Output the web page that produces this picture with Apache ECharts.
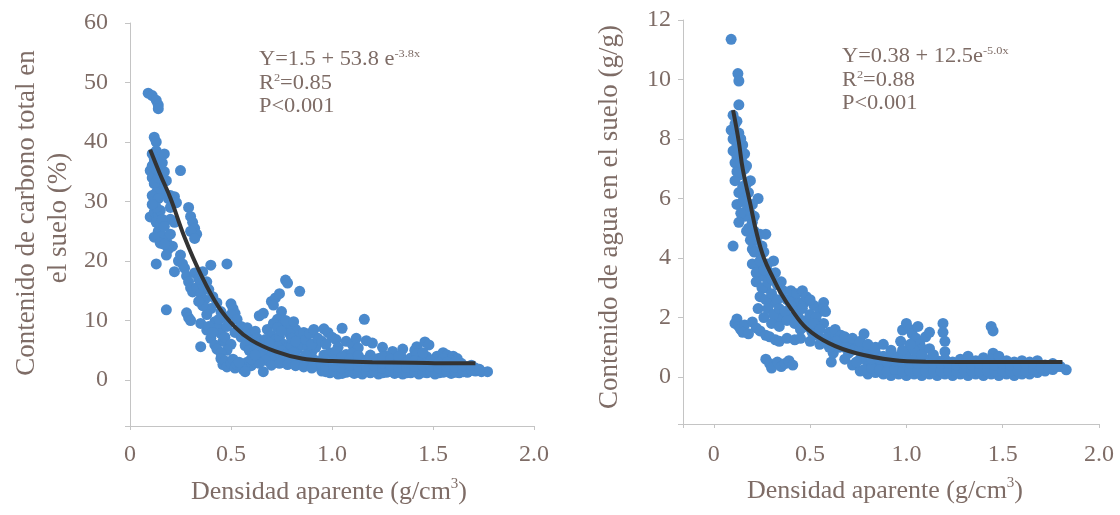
<!DOCTYPE html>
<html><head><meta charset="utf-8">
<script src="https://cdn.jsdelivr.net/npm/echarts@6/dist/echarts.min.js"></script>
<style>html,body{margin:0;padding:0;background:#fff}#c{width:1120px;height:515px}</style>
</head><body><div id="c"></div>
<script>
// ---------- data ----------
const xTickLabels = ['0', '0.5', '1.0', '1.5', '2.0'];

// Left panel: bulk density (g/cm3) vs total soil carbon (%)
const carbonPoints = [
 [0.09,48.2],[0.11,47.8],[0.13,47.0],[0.14,46.2],[0.14,45.6],[0.12,40.8],[0.13,40.0],
 [0.10,35.2],[0.11,34.0],[0.12,36.5],[0.13,38.5],[0.14,37.0],[0.15,36.0],[0.16,34.5],[0.17,35.0],
 [0.15,33.0],[0.16,32.0],[0.17,31.5],[0.18,33.5],[0.19,30.5],[0.20,31.0],[0.21,30.0],[0.25,35.2],
 [0.10,27.4],[0.12,28.2],[0.14,27.8],[0.15,28.5],[0.13,26.5],[0.20,29.0],[0.22,30.8],[0.23,29.8],
 [0.20,27.0],[0.22,26.5],[0.29,29.0],[0.30,27.5],[0.31,26.5],[0.32,25.5],[0.33,24.5],[0.30,25.0],
 [0.32,23.8],[0.14,25.0],[0.16,24.2],[0.18,23.5],[0.20,24.5],[0.21,22.5],[0.19,22.0],[0.25,21.0],
 [0.24,20.0],[0.26,19.5],[0.27,18.8],[0.13,19.5],[0.22,18.2],[0.40,19.3],[0.48,19.5],[0.28,17.5],
 [0.29,16.5],[0.30,15.5],[0.31,14.8],[0.33,15.5],[0.35,14.5],[0.36,16.0],[0.38,16.5],[0.37,13.5],
 [0.77,16.8],[0.78,16.3],[0.84,14.9],[0.18,11.8],[0.28,11.3],[0.29,10.5],[0.30,10.0],[0.40,12.0],
 [0.38,11.0],[0.35,9.5],[0.38,8.4],[0.42,9.8],[0.44,8.8],[0.45,7.8],[0.40,7.0],[0.46,6.5],
 [0.35,5.6],[0.42,5.9],[0.43,5.2],
 [0.11,38.0],[0.12,37.2],[0.11,36.0],[0.12,33.0],[0.13,31.5],[0.11,31.0],[0.12,30.0],[0.14,30.5],
 [0.13,29.0],[0.11,29.5],[0.15,26.2],[0.16,27.0],[0.17,25.8],[0.12,24.0],[0.15,23.0],[0.17,22.8],
 [0.18,21.0],[0.14,34.0],[0.16,36.5],[0.17,38.0],[0.13,35.5],
 [0.32,18.0],[0.34,17.0],[0.36,18.2],[0.39,15.2],[0.41,14.0],[0.43,13.0],[0.45,11.5],[0.47,10.5],
 [0.44,10.2],[0.36,12.5],[0.34,13.2],[0.39,9.0],[0.41,8.0],[0.48,9.0],[0.47,7.2],[0.50,6.0],[0.48,5.0],[0.45,4.5],
 [0.50,12.8],[0.51,12.0],[0.52,11.2],[0.50,11.0],[0.53,10.2],[0.55,9.0],[0.56,8.3],[0.58,8.8],
 [0.60,7.8],[0.62,8.2],[0.64,10.8],[0.66,11.2],[0.63,7.0],[0.58,6.8],[0.60,6.2],[0.65,6.5],
 [0.55,7.2],[0.52,8.0],[0.70,13.2],[0.72,13.8],[0.74,14.5],[0.71,12.6],[0.75,11.5],[0.73,10.2],
 [0.76,9.5],[0.78,9.2],[0.80,8.8],[0.82,8.5],[0.79,7.8],[0.84,7.5],[0.86,8.0],[0.77,10.0],[0.81,9.8],
 [0.68,8.5],[0.70,7.5],[0.72,6.8],[0.74,7.2],[0.76,6.0],[0.78,5.5],[0.80,5.8],[0.83,5.2],[0.85,6.0],
 [0.88,5.5],[0.90,4.8],[0.92,5.5],[0.66,5.5],[0.68,4.6],[0.70,4.0],[0.72,3.8],[0.74,4.5],[0.76,3.5],
 [0.80,3.2],[0.82,4.0],[0.85,3.5],[0.88,3.0],[0.90,3.8],[0.93,3.2],
 [0.57,5.8],[0.59,5.0],[0.61,4.5],[0.63,5.3],[0.65,4.0],[0.67,3.3],[0.69,5.8],[0.71,5.2],[0.73,5.6],
 [0.75,4.9],[0.77,4.2],[0.79,3.8],[0.81,4.6],[0.83,3.0],[0.87,4.2],[0.89,3.3],[0.91,2.6],[0.94,2.2],
 [0.70,2.5],[0.74,2.8],[0.78,2.6],[0.60,2.4],[0.58,3.0],[0.62,3.0],[0.67,6.8],[0.69,6.2],[0.71,9.5],
 [0.73,8.8],[0.75,8.2],[0.80,7.0],[0.82,6.5],[0.87,6.8],[0.90,6.0],[0.93,7.0],[0.89,7.8],[0.91,8.5],
 [0.45,3.6],[0.46,2.6],[0.47,3.2],[0.48,2.2],[0.50,2.8],[0.51,3.5],[0.52,2.0],[0.53,2.6],[0.55,2.3],
 [0.56,1.8],[0.57,1.4],[0.54,3.0],[0.64,2.8],[0.66,1.4],[0.60,3.5],[0.62,4.2],[0.82,2.4],[0.86,2.2],[0.90,2.0],
 [0.96,8.6],[0.98,8.0],[1.00,7.2],[1.02,6.8],[1.05,8.7],[1.07,6.5],[1.10,6.0],[1.16,10.2],[1.17,6.6],
 [1.20,6.2],[1.12,7.0],[0.95,6.5],[0.97,6.0],[1.03,5.5],[1.13,5.4],[1.25,5.5],[1.30,4.8],[1.35,5.2],
 [1.42,5.6],[1.46,6.4],[1.48,5.9],[1.41,5.0],[1.55,4.6],[1.57,4.2],[1.60,4.0],[1.62,3.6],[1.52,4.0],
 [0.95,1.5],[0.95,2.6],[0.96,4.2],[0.99,1.2],[0.99,2.0],[1.00,3.0],[0.99,4.6],
 [1.03,1.0],[1.03,1.8],[1.04,2.7],[1.03,3.8],[1.02,4.8],[1.07,1.3],[1.07,2.2],[1.08,3.3],[1.07,4.3],
 [1.11,1.1],[1.11,1.9],[1.12,2.8],[1.11,3.7],[1.10,4.5],[1.15,1.0],[1.15,1.6],[1.16,2.5],[1.15,3.4],
 [1.19,1.2],[1.19,2.1],[1.20,3.0],[1.19,4.2],[1.23,1.0],[1.23,1.7],[1.24,2.6],[1.23,3.6],
 [1.27,1.3],[1.27,2.2],[1.28,3.1],[1.27,4.0],[1.31,1.1],[1.31,1.8],[1.32,2.7],[1.31,3.5],
 [1.35,1.0],[1.35,1.5],[1.36,2.4],[1.35,3.3],[1.34,4.1],[1.39,1.2],[1.39,2.0],[1.40,2.9],[1.39,3.7],
 [1.43,1.0],[1.43,1.7],[1.44,2.6],[1.43,3.5],[1.42,4.4],[1.47,1.2],[1.47,2.1],[1.48,3.0],[1.47,3.9],
 [1.51,1.0],[1.51,1.6],[1.52,2.5],[1.51,3.4],[1.55,1.3],[1.55,2.0],[1.56,2.8],[1.55,3.6],
 [1.59,1.1],[1.59,1.8],[1.60,2.6],[1.59,3.2],[1.63,1.2],[1.63,2.0],[1.64,2.8],[1.67,1.3],[1.67,2.2],
 [1.71,1.5],[1.71,2.0],[1.74,1.4],[1.77,1.4],
 [0.97,1.4],[0.97,2.3],[0.97,3.4],[1.01,1.5],[1.01,2.4],[1.01,3.3],[1.05,1.1],[1.05,2.0],[1.05,3.0],
 [1.05,3.9],[1.09,1.5],[1.09,2.5],[1.09,3.6],[1.13,1.3],[1.13,2.3],[1.13,3.2],[1.13,4.1],[1.17,1.4],
 [1.17,2.3],[1.17,3.2],[1.21,1.5],[1.21,2.4],[1.21,3.4],[1.25,1.2],[1.25,2.0],[1.25,2.9],[1.25,3.9],
 [1.29,1.5],[1.29,2.5],[1.29,3.5],[1.33,1.3],[1.33,2.1],[1.33,3.0],[1.33,3.9],[1.37,1.2],[1.37,2.1],
 [1.37,3.0],[1.41,1.4],[1.41,2.3],[1.41,3.2],[1.45,1.3],[1.45,2.4],[1.45,3.3],[1.45,4.6],[1.49,1.4],
 [1.49,2.3],[1.49,3.2],[1.53,1.2],[1.53,2.0],[1.53,2.9],[1.57,1.4],[1.57,2.3],[1.57,3.0],[1.61,1.3],
 [1.61,2.2],[1.61,3.0],[1.65,1.4],[1.65,2.4],[1.69,1.6],[1.69,2.5],[1.73,1.8]
];
// Fitted curve as drawn
const carbonFit = [
 [0.10,38.7],[0.15,34.5],[0.20,30.6],[0.27,24.0],[0.35,17.8],[0.44,12.2],[0.52,8.9],[0.60,6.7],
 [0.72,4.8],[0.85,3.6],[1.00,3.2],[1.20,3.0],[1.40,2.9],[1.60,2.8],[1.71,2.8]
];

// Right panel: bulk density (g/cm3) vs soil water content (g/g)
const waterPoints = [
 [0.09,11.35],[0.125,10.2],[0.13,9.95],[0.13,9.15],
 [0.09,8.3],[0.10,8.0],[0.11,8.5],[0.10,7.6],[0.12,7.8],[0.11,7.2],[0.13,8.2],[0.14,7.5],[0.12,6.9],
 [0.14,6.8],[0.15,7.2],[0.16,7.0],[0.17,7.1],[0.15,6.4],[0.13,6.2],[0.16,6.0],[0.18,6.2],[0.12,5.8],
 [0.17,5.6],[0.19,5.5],[0.23,6.0],[0.20,5.2],[0.18,5.0],[0.21,4.9],[0.22,4.6],[0.24,4.8],[0.27,4.8],
 [0.20,4.3],[0.23,4.2],[0.25,4.4],[0.10,4.4],
 [0.10,8.8],[0.11,8.0],[0.12,8.6],[0.13,7.6],[0.12,7.4],[0.11,6.6],[0.13,6.9],[0.14,7.2],[0.15,7.8],
 [0.14,8.0],[0.16,7.5],[0.17,6.5],[0.15,5.9],[0.16,5.4],[0.18,5.6],[0.19,6.6],[0.20,5.8],[0.21,5.4],
 [0.14,5.5],[0.13,5.2],[0.17,4.9],[0.19,4.6],[0.21,4.2],[0.23,3.8],[0.25,3.4],[0.27,3.0],[0.26,4.2],
 [0.29,3.5],[0.32,3.5],[0.35,3.2],[0.38,2.6],[0.41,2.6],[0.44,2.5],[0.47,2.5],[0.52,2.4],[0.55,2.2],
 [0.36,2.0],[0.40,2.0],[0.44,2.0],[0.48,1.9],[0.51,1.5],[0.54,1.4],[0.57,1.8],[0.60,1.2],[0.62,1.4],
 [0.66,1.2],[0.70,0.8],[0.74,1.1],[0.30,2.5],[0.33,2.0],[0.26,2.0],[0.23,2.3],
 [0.20,3.8],[0.22,3.5],[0.24,3.9],[0.26,3.6],[0.28,3.8],[0.31,3.9],[0.22,3.2],[0.25,3.0],[0.28,3.2],
 [0.30,3.3],[0.33,3.1],[0.24,2.7],[0.27,2.6],[0.30,2.8],[0.33,2.6],[0.36,2.9],[0.40,2.9],[0.43,2.8],
 [0.46,2.9],[0.48,2.7],[0.50,2.6],[0.28,2.3],[0.31,2.1],[0.34,2.3],[0.37,2.2],[0.40,2.4],[0.43,2.2],
 [0.46,2.3],[0.50,2.1],[0.53,2.0],[0.57,2.5],[0.57,2.3],[0.58,2.2],
 [0.30,1.8],[0.34,1.7],[0.38,1.9],[0.42,1.8],[0.45,1.6],[0.48,1.7],[0.52,1.8],[0.55,1.6],[0.60,1.5],
 [0.63,1.6],[0.66,1.4],
 [0.11,1.8],[0.12,1.95],[0.13,1.7],[0.14,1.6],[0.16,1.75],[0.20,1.85],[0.22,1.65],[0.24,1.55],
 [0.27,1.4],[0.29,1.35],[0.32,1.25],[0.34,1.2],[0.38,1.3],[0.42,1.25],[0.15,1.5],[0.18,1.45],
 [0.27,0.6],[0.29,0.45],[0.30,0.3],[0.33,0.5],[0.35,0.35],[0.37,0.45],[0.39,0.55],[0.41,0.4],
 [0.45,1.3],[0.50,1.2],[0.55,1.1],[0.58,1.3],[0.61,0.5],[0.62,0.8],[0.65,1.0],[0.70,1.2],[0.72,0.9],
 [0.60,1.0],[0.64,1.2],[0.68,0.6],[0.68,1.0],[0.68,1.35],[0.72,0.4],[0.72,1.3],
 [0.76,0.2],[0.76,0.6],[0.76,1.0],[0.76,1.2],[0.80,0.1],[0.80,0.5],[0.80,0.9],[0.80,1.1],
 [0.84,0.15],[0.84,0.45],[0.84,0.8],[0.84,1.0],[0.88,0.1],[0.88,0.4],[0.88,0.7],[0.88,1.1],
 [0.92,0.05],[0.92,0.35],[0.92,0.65],[0.92,0.9],[0.96,0.1],[0.96,0.4],[0.96,0.7],[0.97,1.2],
 [0.78,1.45],[0.98,1.58],
 [1.00,1.8],[1.02,1.6],[1.03,1.45],[1.05,1.3],[1.07,1.1],[1.08,0.95],[1.06,1.7],[1.10,1.35],
 [1.12,1.5],[1.19,1.8],[1.19,1.5],[1.20,1.2],[1.44,1.7],[1.45,1.55],[1.45,0.8],
 [1.00,0.05],[1.00,0.3],[1.00,0.55],[1.00,0.8],[1.04,0.1],[1.04,0.35],[1.04,0.6],[1.04,0.9],
 [1.08,0.05],[1.08,0.25],[1.08,0.5],[1.08,0.75],[1.12,0.1],[1.12,0.35],[1.12,0.6],[1.12,0.95],
 [1.16,0.05],[1.16,0.3],[1.16,0.55],[1.20,0.1],[1.20,0.35],[1.20,0.6],[1.20,0.85],
 [1.24,0.05],[1.24,0.3],[1.24,0.5],[1.28,0.1],[1.28,0.35],[1.28,0.6],
 [1.32,0.05],[1.32,0.25],[1.32,0.5],[1.32,0.7],[1.36,0.1],[1.36,0.3],[1.36,0.55],
 [1.40,0.05],[1.40,0.3],[1.40,0.5],[1.40,0.65],[1.44,0.1],[1.44,0.35],[1.44,0.6],
 [1.48,0.05],[1.48,0.25],[1.48,0.45],[1.48,0.7],[1.52,0.1],[1.52,0.3],[1.52,0.55],
 [1.56,0.05],[1.56,0.3],[1.56,0.5],[1.60,0.1],[1.60,0.3],[1.60,0.55],
 [1.64,0.1],[1.64,0.35],[1.64,0.5],[1.68,0.15],[1.68,0.3],[1.68,0.55],
 [1.72,0.2],[1.72,0.4],[1.76,0.25],[1.76,0.45],[1.80,0.35],[1.83,0.24],
 [0.74,0.5],[0.78,0.7],[0.78,0.25],[0.82,0.3],[0.82,0.6],[0.86,0.25],[0.86,0.6],[0.90,0.2],[0.90,0.5],
 [0.94,0.25],[0.94,0.55],[0.98,0.2],[0.98,0.5],[0.98,0.9],[1.02,0.2],[1.02,0.45],[1.02,1.1],[1.06,0.2],
 [1.06,0.45],[1.10,0.2],[1.10,0.45],[1.14,0.2],[1.14,0.45],[1.14,0.75],[1.18,0.2],[1.18,0.45],
 [1.22,0.2],[1.22,0.45],[1.26,0.2],[1.26,0.4],[1.30,0.2],[1.30,0.45],[1.34,0.2],[1.34,0.4],
 [1.38,0.2],[1.38,0.45],[1.42,0.2],[1.42,0.45],[1.46,0.2],[1.46,0.4],[1.50,0.2],[1.50,0.45],
 [1.54,0.2],[1.54,0.4],[1.58,0.2],[1.58,0.42],[1.62,0.2],[1.62,0.45],[1.66,0.25],[1.66,0.45],
 [1.70,0.3],[1.74,0.3],[1.78,0.35]
];
const waterFit = [
 [0.10,8.97],[0.13,7.9],[0.15,7.0],[0.19,5.8],[0.22,4.9],[0.26,4.0],[0.31,3.3],[0.35,2.8],
 [0.40,2.3],[0.48,1.65],[0.60,1.13],[0.74,0.80],[0.93,0.57],[1.10,0.51],[1.45,0.50],[1.81,0.50]
];

const carbonEq = ['Y=1.5 + 53.8 e', '-3.8x', '0.85', 'P<0.001'];
const waterEq = ['Y=0.38 + 12.5e', '-5.0x', '0.88', 'P<0.001'];
const yTitleCarbon = ['Contenido de carbono total en', 'el suelo (%)'];
const yTitleWater = 'Contenido de agua en el suelo (g/g)';
const xTitle = 'Densidad aparente (g/cm';

// ---------- chart ----------
const FONT = 'Liberation Serif';
const TXT = '#7e6c66';
const AX = '#c4c4c4';
const DOT = '#4a89cc';

function xLabel(v) { const i = Math.round(v / 0.5); return (Math.abs(v - i * 0.5) < 1e-6 && xTickLabels[i] !== undefined) ? xTickLabels[i] : ''; }

function makeX(idx, min, labelMargin) {
  return {
    type: 'value', gridIndex: idx, min: min, max: 2.0, minInterval: 0.5, maxInterval: 0.5,
    splitLine: { show: false }, showMinLabel: min === 0,
    axisLine: { show: true, onZero: false, lineStyle: { color: AX, width: 1 } },
    axisTick: { show: true, length: 4, lineStyle: { color: AX } },
    axisLabel: { margin: labelMargin, fontSize: 24, fontFamily: FONT, color: TXT, formatter: xLabel }
  };
}
function makeY(idx, min, max, step, labelMargin) {
  return {
    type: 'value', gridIndex: idx, min: min, max: max, minInterval: step, maxInterval: step,
    splitLine: { show: false }, showMinLabel: false,
    axisLine: { show: true, onZero: false, lineStyle: { color: AX, width: 1 } },
    axisTick: { show: true, length: 5, lineStyle: { color: AX } },
    axisLabel: { margin: labelMargin, fontSize: 24, fontFamily: FONT, color: TXT,
      formatter: v => (Math.abs(v / step - Math.round(v / step)) < 1e-6 ? String(Math.round(v)) : '') }
  };
}

const rich = {
  n: { fontSize: 26, fontFamily: FONT, fill: TXT, lineHeight: 30 },
  s: { fontSize: 15, fontFamily: FONT, fill: TXT, lineHeight: 14, verticalAlign: 'top' }
};
const richEq = {
  n: { fontSize: 20, fontFamily: FONT, fill: TXT, lineHeight: 22 },
  s: { fontSize: 11, fontFamily: FONT, fill: TXT, lineHeight: 11, verticalAlign: 'top' }
};

function eqBlock(x, y, eq) {
  return [
    { type: 'text', x: x, y: y, scaleX: 1.12, style: { text: '{n|' + eq[0] + '}{s|' + eq[1] + '}', rich: richEq, align: 'left', verticalAlign: 'middle' } },
    { type: 'text', x: x, y: y + 24, scaleX: 1.12, style: { text: '{n|R}{s|2}{n|=' + eq[2] + '}', rich: richEq, align: 'left', verticalAlign: 'middle' } },
    { type: 'text', x: x, y: y + 47, scaleX: 1.12, style: { text: '{n|' + eq[3] + '}', rich: richEq, align: 'left', verticalAlign: 'middle' } }
  ];
}

const chart = echarts.init(document.getElementById('c'), null, { renderer: 'canvas' });
chart.setOption({
  backgroundColor: '#ffffff',
  animation: false,
  grid: [
    { left: 130, top: 23, width: 404, height: 403 },
    { left: 683, top: 20, width: 416, height: 404 }
  ],
  xAxis: [ makeX(0, 0, 17), makeX(1, -0.16, 19) ],
  yAxis: [ makeY(0, -7.73, 60, 10, 22), makeY(1, -1.58, 12, 2, 12) ],
  series: [
    { type: 'scatter', xAxisIndex: 0, yAxisIndex: 0, data: carbonPoints, symbolSize: 11,
      itemStyle: { color: DOT, opacity: 1 }, z: 2 },
    { type: 'line', xAxisIndex: 0, yAxisIndex: 0, data: carbonFit, smooth: 0.4, showSymbol: false,
      lineStyle: { color: '#333333', width: 4 }, z: 3 },
    { type: 'scatter', xAxisIndex: 1, yAxisIndex: 1, data: waterPoints, symbolSize: 11,
      itemStyle: { color: DOT, opacity: 1 }, z: 2 },
    { type: 'line', xAxisIndex: 1, yAxisIndex: 1, data: waterFit, smooth: 0.4, showSymbol: false,
      lineStyle: { color: '#333333', width: 4 }, z: 3 }
  ],
  graphic: [
    { type: 'text', x: 27, y: 213, rotation: Math.PI / 2,
      style: { text: yTitleCarbon[0], fontSize: 27, fontFamily: FONT, fill: TXT, align: 'center', verticalAlign: 'middle' } },
    { type: 'text', x: 59, y: 218, rotation: Math.PI / 2,
      style: { text: yTitleCarbon[1], fontSize: 27, fontFamily: FONT, fill: TXT, align: 'center', verticalAlign: 'middle' } },
    { type: 'text', x: 610, y: 217, rotation: Math.PI / 2,
      style: { text: yTitleWater, fontSize: 27, fontFamily: FONT, fill: TXT, align: 'center', verticalAlign: 'middle' } },
    { type: 'text', x: 329, y: 492,
      style: { text: '{n|' + xTitle + '}{s|3}{n|)}', rich: rich, align: 'center', verticalAlign: 'middle' } },
    { type: 'text', x: 885, y: 491,
      style: { text: '{n|' + xTitle + '}{s|3}{n|)}', rich: rich, align: 'center', verticalAlign: 'middle' } }
  ].concat(eqBlock(259, 60, carbonEq), eqBlock(842, 57, waterEq))
});
</script></body></html>
